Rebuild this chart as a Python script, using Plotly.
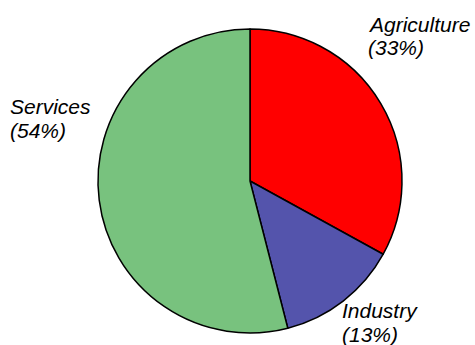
import plotly.graph_objects as go

sectors = ["Agriculture", "Industry", "Services"]
shares = [33, 13, 54]
colors = ["#ff0000", "#5454ac", "#78c27e"]

W, H = 475, 345
cx, cy, r = 250, 181, 152

fig = go.Figure(go.Pie(
    labels=sectors, values=shares, sort=False, direction="clockwise", rotation=0,
    marker=dict(colors=colors, line=dict(color="black", width=1.5)),
    textinfo="none", hoverinfo="label+percent", showlegend=False,
    domain=dict(x=[(cx - r) / W, (cx + r) / W], y=[(H - cy - r) / H, (H - cy + r) / H]),
))

# (left x, middle y of first line, line spacing) in pixels
label_pos = {"Agriculture": (366, 24, 23), "Industry": (340, 310, 24), "Services": (8, 106, 24)}
font = dict(family="Liberation Sans, Arial", size=21, color="black", style="italic")
for name, val in zip(sectors, shares):
    x, y, dy = label_pos[name]
    for i, line in enumerate([name, f"({val}%)"]):
        fig.add_annotation(
            x=x / W, y=1 - (y + i * dy) / H, xref="paper", yref="paper",
            xanchor="left", yanchor="middle", text=line, showarrow=False, font=font,
        )

fig.update_layout(width=W, height=H, margin=dict(l=0, r=0, t=0, b=0),
                  paper_bgcolor="white", plot_bgcolor="white")
fig.write_html("out.html", config={"displayModeBar": False},
               post_script="document.body.style.margin='0';document.body.style.overflow='hidden';")
